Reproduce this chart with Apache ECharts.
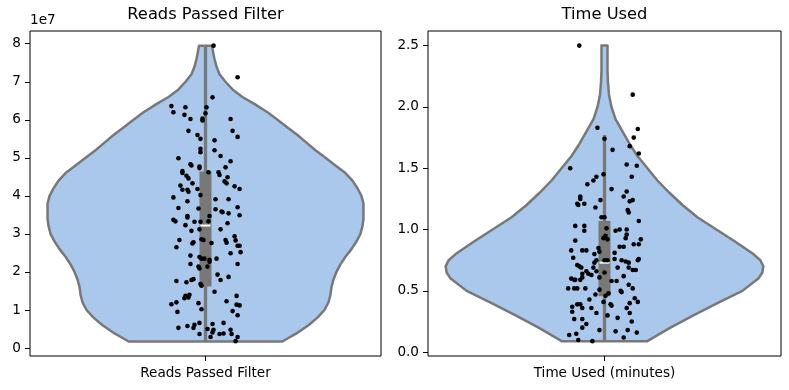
<!DOCTYPE html>
<html><head><meta charset="utf-8">
<script src="https://cdn.jsdelivr.net/npm/echarts@6/dist/echarts.min.js"></script>
<style>html,body{margin:0;padding:0;background:#fff}#c{width:789px;height:390px}</style>
</head><body><div id="c"></div>
<script>
// ---------- data ----------
const panelTitles = ['Reads Passed Filter', 'Time Used'];
const readsCategory = ['Reads Passed Filter'];
const timeCategory = ['Time Used (minutes)'];
const readsScaleLabel = '1e7';
const readsTicks = [0, 1, 2, 3, 4, 5, 6, 7, 8];
const timeTicks = [0, 0.5, 1.0, 1.5, 2.0, 2.5];

// reads passed filter, in units of 1e7
const readsValues = [7.95,7.12,6.59,6.36,6.20,6.33,6.13,6.02,6.33,6.17,
  6.03,5.98,6.02,5.71,5.55,5.71,5.60,5.50,5.46,5.24,
  5.15,5.20,5.05,4.99,4.91,4.83,4.80,4.77,4.73,4.75,
  4.65,4.60,4.53,4.46,4.62,4.62,4.55,4.49,4.38,4.33,
  4.33,4.27,4.16,4.16,4.11,4.18,4.25,4.18,3.96,4.02,
  3.86,3.91,3.91,3.68,3.67,3.65,3.59,3.57,3.54,3.70,
  3.49,3.47,3.43,3.47,3.33,3.37,3.33,3.32,3.32,3.28,
  3.23,3.12,3.08,3.12,2.94,2.84,2.78,2.75,2.86,2.84,
  2.76,2.84,2.77,2.83,2.69,2.69,2.65,2.52,2.49,2.43,
  2.39,2.35,2.35,2.32,2.35,2.27,2.21,2.14,2.09,2.14,
  2.21,1.93,1.79,1.87,1.79,1.81,1.76,1.73,1.68,1.64,
  1.48,1.37,1.40,1.31,1.33,1.37,1.23,1.20,1.15,1.18,
  1.14,1.12,0.95,1.02,0.97,0.86,0.66,0.63,0.66,0.61,
  0.53,0.58,0.53,0.50,0.48,0.41,0.48,0.37,0.37,0.37,
  0.38,0.29,0.29,0.18];
// strip-plot jitter, in 1/350 of the category width
const readsJitter = [8,32,7,-34,-32,-20,-21,-15,1,0,
  -3,-3,25,27,32,-17,-8,-5,9,-5,
  -5,9,15,-27,25,-15,-14,-6,-6,20,
  -23,-23,-19,-17,3,13,14,22,19,21,
  -13,-25,-23,-18,-17,-8,29,34,-32,-5,
  -18,10,23,-27,-7,10,16,17,23,32,
  34,-18,-18,4,3,-32,-30,-11,-5,22,
  -20,15,-14,-6,29,-26,-12,-13,-4,-2,
  6,20,21,30,32,34,-29,35,25,-15,
  -6,-4,-1,4,11,4,-15,-7,-6,2,
  32,12,15,23,-14,-12,-29,-19,-5,-4,
  9,-20,-16,-21,-17,31,21,-29,-34,-7,
  31,34,-28,-4,27,32,18,7,-6,-11,
  -12,-18,-27,2,8,7,25,26,-6,14,
  18,5,32,30];

// time used, minutes
const timeValues = [2.50,2.10,1.83,1.82,1.75,1.74,1.68,1.62,1.65,1.50,
  1.53,1.52,1.43,1.45,1.43,1.37,1.40,1.33,1.31,1.27,
  1.27,1.25,1.24,1.24,1.23,1.21,1.20,1.21,1.18,1.16,
  1.14,1.10,1.10,1.07,1.03,1.03,0.99,1.01,1.00,1.00,
  0.99,0.96,0.95,0.93,0.92,0.92,0.93,0.88,0.88,0.91,
  0.86,0.86,0.85,0.83,0.83,0.83,0.82,0.80,0.81,0.77,
  0.76,0.75,0.75,0.75,0.75,0.74,0.73,0.75,0.76,0.73,
  0.71,0.70,0.69,0.69,0.69,0.67,0.67,0.69,0.66,0.66,
  0.65,0.64,0.63,0.64,0.61,0.60,0.59,0.59,0.59,0.61,
  0.62,0.55,0.58,0.58,0.52,0.52,0.52,0.52,0.51,0.49,
  0.50,0.52,0.48,0.47,0.46,0.44,0.41,0.41,0.39,0.39,
  0.37,0.36,0.39,0.38,0.40,0.43,0.36,0.33,0.32,0.32,
  0.30,0.36,0.27,0.27,0.28,0.25,0.23,0.20,0.18,0.18,
  0.17,0.16,0.15,0.14,0.12,0.10,0.09];
const timeJitter = [-25,28,-7,33,29,0,25,34,8,-34,
  22,32,-8,-1,27,-17,-11,7,22,19,
  -24,-24,-4,28,25,-27,-26,-20,-9,23,
  24,-3,0,34,-29,-20,-20,2,15,22,
  11,22,1,-1,3,36,21,29,34,-29,
  15,19,-6,-33,-22,-18,-5,-10,10,-31,
  10,-8,0,3,17,21,24,33,34,-10,
  -27,-25,-23,-11,24,28,31,13,-18,-8,
  0,-16,-13,-22,-22,-33,-30,-24,-29,-5,
  19,24,7,12,-36,-30,-27,-19,-5,17,
  16,28,4,-9,1,30,33,-1,-27,-24,
  -32,-22,6,7,25,-15,-13,-32,-8,25,
  3,22,-30,-22,13,27,-18,-22,23,-5,
  11,32,-28,-35,19,-26,-12];

// violin density profile (relative width)
const readsKdeY = [7.95,7.8,7.6,7.4,7.2,7.0,6.8,6.6,6.4,6.2,6.0,5.8,5.6,5.4,5.2,5.0,4.8,4.6,4.4,4.2,4.0,3.8,3.6,3.4,3.2,3.0,2.8,2.6,2.4,2.2,2.0,1.8,1.6,1.4,1.2,1.0,0.8,0.6,0.4,0.25,0.17];
const readsKdeW = [6.5,7.5,9,11,14,20,27,37,50,62,72,82,92,101,110,120,130,140,147,152,156,158,158,158,157,155,151,146,140,135,131,128,126,125,123,119,112,103,92,82,77];
const timeKdeY = [2.50,2.4,2.3,2.2,2.1,2.0,1.9,1.8,1.7,1.6,1.5,1.4,1.3,1.2,1.1,1.0,0.9,0.8,0.75,0.7,0.65,0.6,0.5,0.4,0.3,0.2,0.1,0.09];
const timeKdeW = [3,3,3,3.5,4.5,7,11,18,25,33,43,53,65,78,93,112,131,149,156,159,158,154,138,113,89,66,45,43];

// box summaries: [whisker low, q1, median, q3, whisker high]
const readsBox = [0.17, 1.62, 3.22, 4.64, 7.95];
const timeBox = [0.09, 0.457, 0.73, 1.07, 1.77];

// ---------- drawing ----------
const FILL = '#a9c8eb';
const LINE = '#787878';
const FONT = 'DejaVu Sans';
const HALF = 0.45;

function violinRender(ys, ws) {
  const wmax = Math.max.apply(null, ws);
  return function (params, api) {
    const pts = [];
    for (let i = 0; i < ys.length; i++) pts.push(api.coord([ws[i] / wmax * HALF, ys[i]]));
    for (let i = ys.length - 1; i >= 0; i--) pts.push(api.coord([-ws[i] / wmax * HALF, ys[i]]));
    return { type: 'polygon', shape: { points: pts },
      style: { fill: FILL, stroke: LINE, lineWidth: 2.5, lineJoin: 'round' } };
  };
}
function boxRender(b) {
  return function (params, api) {
    const lo = api.coord([0, b[0]]), q1 = api.coord([0, b[1]]), med = api.coord([0, b[2]]),
          q3 = api.coord([0, b[3]]), hi = api.coord([0, b[4]]);
    const cx = lo[0];
    return { type: 'group', children: [
      { type: 'line', shape: { x1: cx, y1: lo[1], x2: cx, y2: hi[1] }, style: { stroke: LINE, lineWidth: 3.3 } },
      { type: 'rect', shape: { x: cx - 6, y: q3[1], width: 12, height: q1[1] - q3[1] }, style: { fill: LINE } },
      { type: 'line', shape: { x1: cx - 5, y1: med[1], x2: cx + 5, y2: med[1] }, style: { stroke: '#fff', lineWidth: 2 } }
    ] };
  };
}
function pts(vals, jit) { return vals.map((v, i) => [jit[i] / 350, v]); }

function valueX(g) { return { type: 'value', gridIndex: g, min: -0.5, max: 0.5, show: false, axisLine: { onZero: false } }; }
function catX(g, data) {
  return { type: 'category', gridIndex: g, data: data, position: 'bottom',
    axisLine: { show: false, onZero: false }, splitLine: { show: false },
    axisTick: { show: true, alignWithLabel: true, length: 5, lineStyle: { color: '#000', width: 1 } },
    axisLabel: { color: '#000', fontSize: 13.6, fontFamily: FONT, margin: 10 } };
}
function valY(g, min, max, ticks, fmt) {
  return { type: 'value', gridIndex: g, min: min, max: max,
    axisLine: { show: false, onZero: false }, splitLine: { show: false },
    axisTick: { show: true, length: 5, customValues: ticks, lineStyle: { color: '#000', width: 1 } },
    axisLabel: { color: '#000', fontSize: 13.6, fontFamily: FONT, margin: 9, customValues: ticks, formatter: fmt } };
}

const chart = echarts.init(document.getElementById('c'), null, { renderer: 'canvas' });
chart.setOption({
  animation: false,
  backgroundColor: '#fff',
  title: [
    { text: panelTitles[0], left: 205.5, top: 7, textAlign: 'center', padding: 0,
      textStyle: { fontSize: 16.3, fontWeight: 'normal', color: '#000', fontFamily: FONT } },
    { text: panelTitles[1], left: 604.5, top: 7, textAlign: 'center', padding: 0,
      textStyle: { fontSize: 16.3, fontWeight: 'normal', color: '#000', fontFamily: FONT } }
  ],
  graphic: [
    { type: 'text', left: 30, top: 13, style: { text: readsScaleLabel, fontSize: 13.6, fontFamily: FONT, fill: '#000' } }
  ],
  grid: [
    { left: 30, top: 31, width: 351, height: 325, show: true, borderColor: '#000', borderWidth: 1, backgroundColor: 'transparent' },
    { left: 428, top: 31, width: 353, height: 325, show: true, borderColor: '#000', borderWidth: 1, backgroundColor: 'transparent' }
  ],
  xAxis: [ valueX(0), catX(0, readsCategory), valueX(1), catX(1, timeCategory) ],
  yAxis: [
    valY(0, -0.21, 8.335, readsTicks, v => String(Math.round(v))),
    valY(1, -0.031, 2.619, timeTicks, v => v.toFixed(1))
  ],
  series: [
    { type: 'custom', xAxisIndex: 0, yAxisIndex: 0, data: [[0, 0]], renderItem: violinRender(readsKdeY, readsKdeW), silent: true, z: 1 },
    { type: 'custom', xAxisIndex: 0, yAxisIndex: 0, data: [[0, 0]], renderItem: boxRender(readsBox), silent: true, z: 2 },
    { type: 'scatter', xAxisIndex: 0, yAxisIndex: 0, data: pts(readsValues, readsJitter), symbolSize: 4.6,
      itemStyle: { color: '#000', opacity: 1 }, silent: true, z: 3 },
    { type: 'custom', xAxisIndex: 2, yAxisIndex: 1, data: [[0, 0]], renderItem: violinRender(timeKdeY, timeKdeW), silent: true, z: 1 },
    { type: 'custom', xAxisIndex: 2, yAxisIndex: 1, data: [[0, 0]], renderItem: boxRender(timeBox), silent: true, z: 2 },
    { type: 'scatter', xAxisIndex: 2, yAxisIndex: 1, data: pts(timeValues, timeJitter), symbolSize: 4.6,
      itemStyle: { color: '#000', opacity: 1 }, silent: true, z: 3 }
  ]
});
</script>
</body></html>
